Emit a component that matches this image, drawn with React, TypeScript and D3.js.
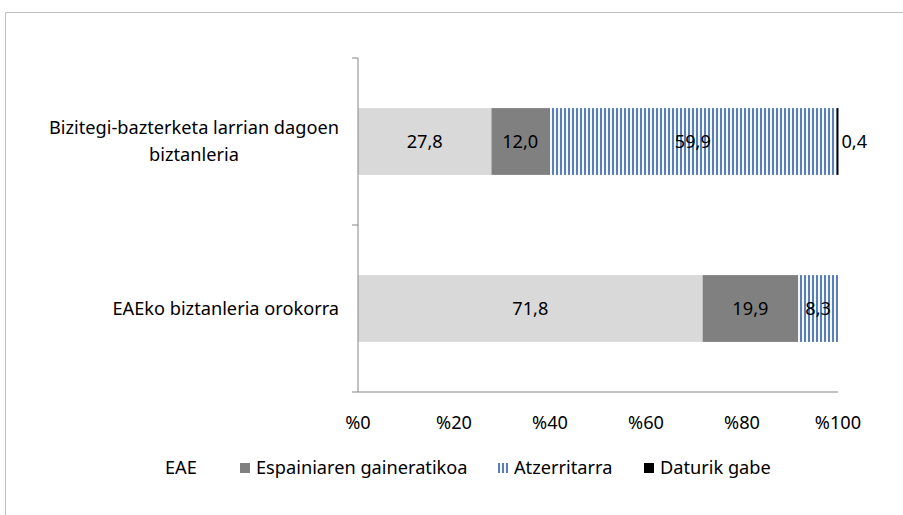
import React from "react";
import * as d3 from "d3";

const categories = ["Bizitegi-bazterketa larrian dagoen biztanleria", "EAEko biztanleria orokorra"];
const categoryLines = [["Bizitegi-bazterketa larrian dagoen", "biztanleria"], ["EAEko biztanleria orokorra"]];
const seriesNames = ["EAE", "Espainiaren gaineratikoa", "Atzerritarra", "Daturik gabe"];
const eae = [27.8, 71.8];
const spain = [12.0, 19.9];
const foreign = [59.9, 8.3];
const noData = [0.4, 0];
const tickValues = [0, 20, 40, 60, 80, 100];

const fills = ["#d9d9d9", "#808080", "url(#stripes)", "#000000"];
const font = "'Noto Sans', sans-serif";
const fs = 18.2;

export default function App() {
  const width = 903, height = 515;
  const x = d3.scaleLinear().domain([0, 100]).range([358, 838]);
  const y = d3.scaleBand().domain(categories).range([58, 392]).paddingInner(0.6).paddingOuter(0.3);

  const rows = categories.map((c, i) => ({ cat: c, EAE: eae[i], Spain: spain[i], Foreign: foreign[i], None: noData[i] }));
  const stack = d3.stack<any>().keys(["EAE", "Spain", "Foreign", "None"])(rows);
  const fmt = (v: number) => v.toFixed(1).replace(".", ",");

  // legend entries: left edge of marker/text
  const legendX = [165, 240, 498, 644];

  return (
    <svg width={width} height={height} style={{ position: "absolute", left: 0, top: 0 }} fontFamily={font}>
      <defs>
        <pattern id="stripes" patternUnits="userSpaceOnUse" width={4} height={4}>
          <rect width={4} height={4} fill="#f4f7fb" />
          <rect x={0} width={2} height={4} fill="#5a7fb5" />
        </pattern>
      </defs>
      <rect x={0} y={0} width={width} height={height} fill="#fff" />
      <path d={`M5.5,${height} V12.5 H${width}`} fill="none" stroke="#bfbfbf" strokeWidth={1} />

      {stack.map((s, si) =>
        s.map((d, i) => {
          const w = x(d[1]) - x(d[0]);
          if (w <= 0) return null;
          return (
            <rect key={`${si}-${i}`} x={x(d[0])} y={y(categories[i])} width={w} height={y.bandwidth()} fill={fills[si]} />
          );
        })
      )}

      {/* value labels */}
      {stack.map((s, si) =>
        s.map((d, i) => {
          const v = d[1] - d[0];
          if (v <= 0) return null;
          const cy = (y(categories[i]) as number) + y.bandwidth() / 2;
          const outside = si === 3;
          return (
            <text key={`l${si}-${i}`} x={outside ? x(d[1]) + 3 : (x(d[0]) + x(d[1])) / 2} y={cy} dy="0.35em"
              textAnchor={outside ? "start" : "middle"} fontSize={fs} fill="#000">
              {fmt(v)}
            </text>
          );
        })
      )}

      {/* y axis */}
      <line x1={358} x2={358} y1={58} y2={392} stroke="#868686" />
      {[58, 225, 392].map((t) => (
        <line key={t} x1={352} x2={358} y1={t} y2={t} stroke="#868686" />
      ))}
      <line x1={358} x2={838} y1={392} y2={392} stroke="#868686" />

      {/* category labels, centred on their block */}
      {categoryLines.map((lines, i) => {
        const cy = (y(categories[i]) as number) + y.bandwidth() / 2;
        if (lines.length === 1)
          return <text key={i} x={339} y={cy} dy="0.35em" textAnchor="end" fontSize={fs}>{lines[0]}</text>;
        return (
          <g key={i}>
            <text x={194} y={cy - 13.5} dy="0.35em" textAnchor="middle" fontSize={fs}>{lines[0]}</text>
            <text x={194} y={cy + 13.5} dy="0.35em" textAnchor="middle" fontSize={fs}>{lines[1]}</text>
          </g>
        );
      })}

      {/* x ticks */}
      {tickValues.map((t) => (
        <text key={t} x={x(t)} y={423} dy="0.35em" textAnchor="middle" fontSize={fs}>{"%" + t}</text>
      ))}

      {/* legend */}
      {seriesNames.map((n, i) => (
        <g key={n} transform={`translate(${legendX[i]},468)`}>
          {i > 0 && <rect x={0} y={-5} width={10} height={10} fill={fills[i]} />}
          <text x={i > 0 ? 16 : 0} y={0} dy="0.35em" fontSize={fs}>{n}</text>
        </g>
      ))}
    </svg>
  );
}
